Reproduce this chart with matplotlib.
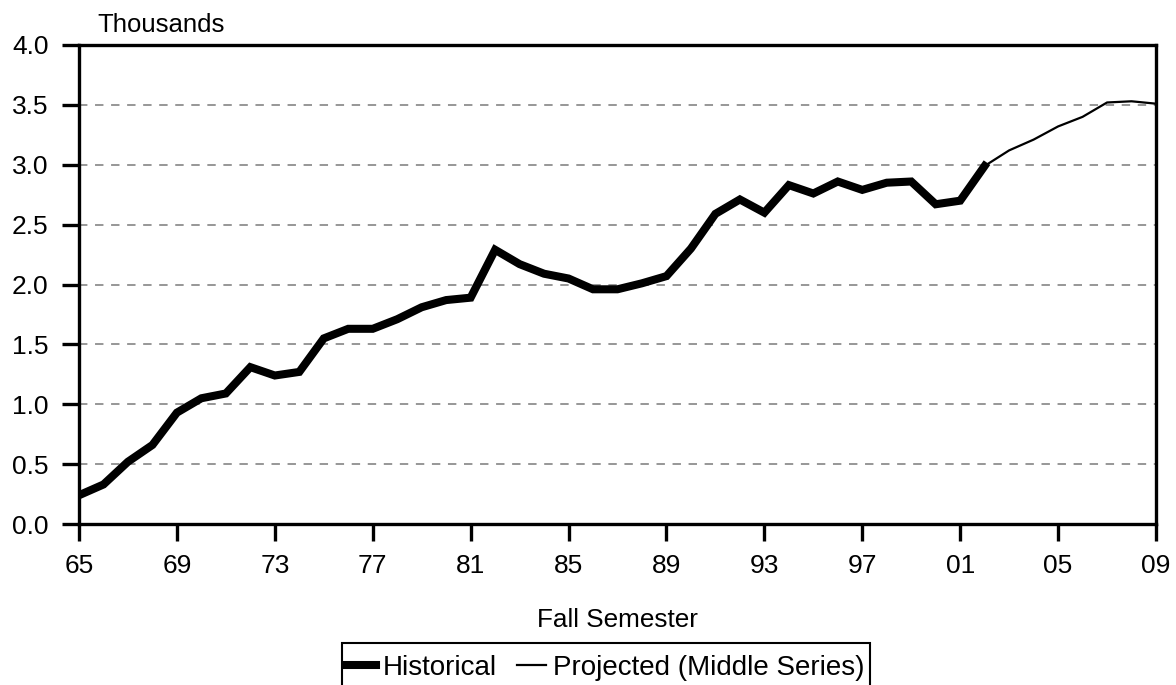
import matplotlib
matplotlib.use("Agg")
import matplotlib.pyplot as plt
from matplotlib.patches import Rectangle

plt.rcParams['font.family'] = ['Liberation Sans', 'DejaVu Sans']

hist_years = list(range(1965, 2003))
hist_values = [0.24, 0.33, 0.52, 0.66, 0.93, 1.05, 1.09, 1.31, 1.24, 1.27,
               1.55, 1.63, 1.63, 1.71, 1.81, 1.87, 1.89, 2.29, 2.17, 2.09,
               2.05, 1.96, 1.96, 2.01, 2.07, 2.30, 2.59, 2.71, 2.60, 2.83,
               2.76, 2.86, 2.79, 2.85, 2.86, 2.67, 2.70, 2.99]
proj_years = list(range(2002, 2010))
proj_values = [2.99, 3.12, 3.21, 3.32, 3.40, 3.52, 3.53, 3.51]

tick_years = list(range(1965, 2010, 4))
tick_labels = ["65", "69", "73", "77", "81", "85", "89", "93", "97", "01", "05", "09"]
y_ticks = [0.0, 0.5, 1.0, 1.5, 2.0, 2.5, 3.0, 3.5, 4.0]

W, H = 1176, 685
fig = plt.figure(figsize=(W / 100, H / 100), dpi=100)
ax = fig.add_axes([79/W, 1-524/H, (1156-79)/W, (524-45)/H])

for y in y_ticks[1:-1]:
    ax.axhline(y, color='#7a7a7a', lw=1.1, ls=(0, (5.5, 5)), zorder=1)

ax.plot(hist_years, hist_values, color='black', lw=5.8, solid_joinstyle='miter',
        label='Historical', zorder=3)
ax.plot(proj_years, proj_values, color='black', lw=1.6,
        label='Projected (Middle Series)', zorder=2)

ax.set_xlim(1965, 2009)
ax.set_ylim(0, 4.0)
ax.set_xticks(tick_years)
ax.set_xticklabels(tick_labels)
ax.set_yticks(y_ticks)
ax.set_yticklabels([f"{v:.1f}" for v in y_ticks])

for s in ['left', 'bottom', 'top', 'right']:
    ax.spines[s].set_linewidth(2.4)
    ax.spines[s].set_color('black')

ax.tick_params(axis='both', direction='out', length=12, width=2.4, labelsize=19, colors='black')
ax.tick_params(axis='x', pad=9.5)
ax.tick_params(axis='y', pad=10)

fig.text(617/W, 1-620/H, 'Fall Semester', fontsize=18.8, va='center', ha='center')
fig.text(97/W, 1-32/H, 'Thousands', fontsize=18.5, va='baseline', ha='left')

leg = fig.legend(loc='upper center', bbox_to_anchor=(606/W, 1-649/H), ncol=2,
                 fontsize=20, frameon=False,
                 handlelength=1.05, handletextpad=0.25, columnspacing=0.72,
                 borderpad=0.2, borderaxespad=0)

fig.canvas.draw()
bb = leg.get_window_extent()
x0 = bb.x0 / W
x1 = bb.x1 / W
top = 1 - 643 / H
fig.patches.append(Rectangle((x0, -0.05), x1 - x0, top + 0.05, transform=fig.transFigure,
                             fill=False, edgecolor='black', lw=1.5, zorder=5))

fig.savefig('out.png', dpi=100)
